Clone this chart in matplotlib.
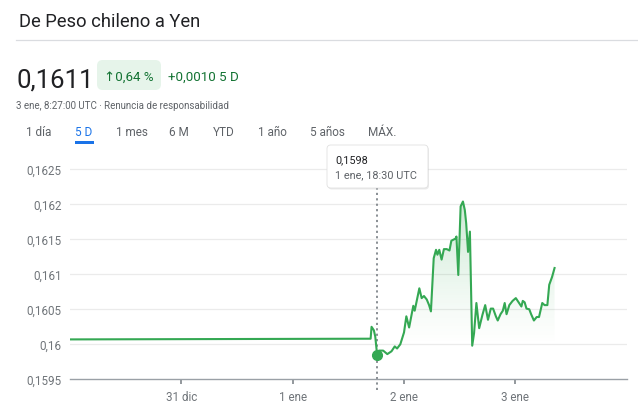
import matplotlib
matplotlib.use('Agg')
import matplotlib.pyplot as plt
import numpy as np
from matplotlib.patches import FancyBboxPatch, Polygon, Rectangle
from matplotlib.lines import Line2D

plt.rcParams['font.family'] = ['Roboto', 'DejaVu Sans']

# ---- data: hours since 30 dic 00:00 UTC, CLP->JPY rate ----
hours = [0.0, 64.8, 65.0, 65.5, 65.8, 66.2, 66.6, 67.5, 68.4, 69.3, 70.0, 70.5, 71.2,
         72.0, 72.5, 73.1, 74.0, 74.3, 75.3, 75.8, 76.3, 76.9, 77.4, 77.8,
         78.4, 78.9, 79.2, 79.6, 80.1, 80.6, 81.2, 81.8, 82.2, 83.1, 83.3,
         83.7, 84.2, 84.7, 85.1, 85.4, 85.8, 86.2, 86.7, 87.1, 87.6, 88.2,
         88.9, 89.5, 90.1, 90.7, 91.2, 91.8, 92.2, 92.8, 93.3, 93.7, 94.1,
         94.7, 95.4, 96.1, 96.8, 97.3, 97.6, 98.0, 98.4, 99.0, 99.4, 100.0,
         100.6, 101.1, 101.8, 102.3, 102.9, 103.3, 103.9, 104.45]
values = [0.16007, 0.16008, 0.16025, 0.16020, 0.16011, 0.15985, 0.15991, 0.15991, 0.15986,
          0.15990, 0.15997, 0.15994, 0.16000, 0.16017, 0.16040, 0.16024, 0.16055,
          0.16048, 0.16080, 0.16066, 0.16069, 0.16064, 0.16056, 0.16047,
          0.16123, 0.16135, 0.16128, 0.16135, 0.16121, 0.16136, 0.16136, 0.16134,
          0.16148, 0.16151, 0.16154, 0.16099, 0.16197, 0.16204, 0.16192, 0.16173,
          0.16132, 0.16161, 0.15998, 0.16016, 0.16059, 0.16023, 0.16042, 0.16056,
          0.16035, 0.16051, 0.16051, 0.16040, 0.16034, 0.16043, 0.16048, 0.16059,
          0.16043, 0.16056, 0.16062, 0.16066, 0.16059, 0.16054, 0.16062, 0.16060,
          0.16051, 0.16050, 0.16043, 0.16034, 0.16039, 0.16039, 0.16059, 0.16056,
          0.16056, 0.16085, 0.16096, 0.16109]
hover_index = 5
hover_value_label = '0,1598'
hover_time_label = '1 ene, 18:30 UTC'

y_ticks = [0.1595, 0.1600, 0.1605, 0.1610, 0.1615, 0.1620, 0.1625]
y_tick_labels = ['0,1595', '0,16', '0,1605', '0,161', '0,1615', '0,162', '0,1625']
x_ticks = [24, 48, 72, 96]
x_tick_labels = ['31 dic', '1 ene', '2 ene', '3 ene']
tabs = ['1 día', '5 D', '1 mes', '6 M', 'YTD', '1 año', '5 años', 'MÁX.']
tab_centers = [38.3, 84, 131.5, 179.3, 224, 272.5, 327, 382.2]

W, H = 638, 419
fig = plt.figure(figsize=(W / 100, H / 100), dpi=100)

def fx(x):
    return x / W

def fy(y):
    return 1 - y / H

GREEN = '#34a853'
DARK = '#202124'
GRAY = '#5f6368'

# ---- header ----
fig.text(fx(19), fy(27), 'De Peso chileno a Yen', fontsize=13.2, color=DARK, va='baseline')
fig.add_artist(Line2D([fx(16), fx(638)], [fy(40.5), fy(40.5)], color='#dadce0', lw=0.9))
fig.text(fx(17), fy(87.5), '0,1611', fontsize=18.5, color=DARK, va='baseline')
fig.add_artist(FancyBboxPatch((fx(97), fy(90)), fx(64), 30 / H,
                              boxstyle='round,pad=0,rounding_size=0.009',
                              facecolor='#e6f4ea', edgecolor='none',
                              mutation_aspect=W / H))
fig.text(fx(104.5), fy(80.5), '↑0,64 %', fontsize=9.6, color='#137333', va='baseline')
fig.text(fx(168), fy(80.5), '+0,0010 5 D', fontsize=9.6, color='#137333', va='baseline')
fig.text(fx(16), fy(109), '3 ene, 8:27:00 UTC · Renuncia de responsabilidad',
         fontsize=7.0, color=GRAY, va='baseline')
for lab, cx in zip(tabs, tab_centers):
    col = '#1a73e8' if lab == '5 D' else GRAY
    fig.text(fx(cx), fy(136), lab, fontsize=8.5, color=col, ha='center', va='baseline')
fig.add_artist(Rectangle((fx(75), fy(143.5)), fx(18.5), 2.5 / H,
                         facecolor='#1a73e8', edgecolor='none'))

# ---- chart ----
ax = fig.add_axes([fx(70), fy(379.3), fx(556.7), (379.3 - 150) / H])
ymin, ymax = 0.1595, 0.162776
ax.set_xlim(0, 120)
ax.set_ylim(ymin, ymax)
for s in ['top', 'right', 'left']:
    ax.spines[s].set_visible(False)
ax.spines['bottom'].set_color('#9aa0a6')
ax.spines['bottom'].set_linewidth(1.0)
ax.set_yticks(y_ticks)
ax.set_yticklabels(y_tick_labels)
ax.set_xticks(x_ticks)
ax.set_xticklabels(x_tick_labels)
ax.tick_params(axis='y', length=0, pad=6, labelsize=8.4, labelcolor='#70757a')
ax.tick_params(axis='x', length=3.5, width=1.2, color='#80868b', pad=5,
               labelsize=8.4, labelcolor='#70757a')
for t in y_ticks[1:]:
    ax.axhline(t, color='#ebebeb', lw=0.9, zorder=0)

# gradient fill under the line
top = max(values)
grad_y = np.linspace(ymin, top, 256)
alpha = np.clip((grad_y - 0.15997) / (top - 0.15997), 0, 1) ** 1.2 * 0.25
img = np.zeros((256, 1, 4))
img[:, 0, 0] = 0x34 / 255
img[:, 0, 1] = 0xa8 / 255
img[:, 0, 2] = 0x53 / 255
img[:, 0, 3] = alpha
im = ax.imshow(img, extent=[0, 120, ymin, top], origin='lower', aspect='auto',
               zorder=1, interpolation='bilinear')
poly = Polygon(list(zip(hours, values)) + [(hours[-1], ymin), (hours[0], ymin)],
               closed=True, facecolor='none', edgecolor='none')
ax.add_patch(poly)
im.set_clip_path(poly)

ax.plot(hours, values, color=GREEN, lw=1.5, zorder=3, solid_joinstyle='round')

# hover marker + dotted guide
hx, hv = hours[hover_index], values[hover_index]
ax.plot([hx, hx], [ymin - 0.00015, ymin + (379.3 - 188) / 70 * 0.001],
        color='#80868b', lw=1.3, linestyle=(0, (1.2, 1.8)), zorder=2, clip_on=False)
ax.plot([hx], [hv], marker='o', markersize=7, color=GREEN, zorder=4)

# tooltip
fig.add_artist(FancyBboxPatch((fx(328), fy(189.5)), fx(101), 43 / H,
                              boxstyle='round,pad=0,rounding_size=0.006',
                              facecolor='#000000', alpha=0.08, edgecolor='none',
                              mutation_aspect=W / H, zorder=5))
fig.add_artist(FancyBboxPatch((fx(327), fy(188)), fx(101), 43 / H,
                              boxstyle='round,pad=0,rounding_size=0.006',
                              facecolor='white', edgecolor='#e0e0e0', lw=0.6,
                              mutation_aspect=W / H, zorder=6))
fig.text(fx(335), fy(163), hover_value_label, fontsize=7.8, color=DARK, va='baseline', zorder=7)
fig.text(fx(335), fy(178), hover_time_label, fontsize=7.8, color=GRAY, va='baseline', zorder=7)

fig.savefig('out.png', dpi=100, facecolor='white')
